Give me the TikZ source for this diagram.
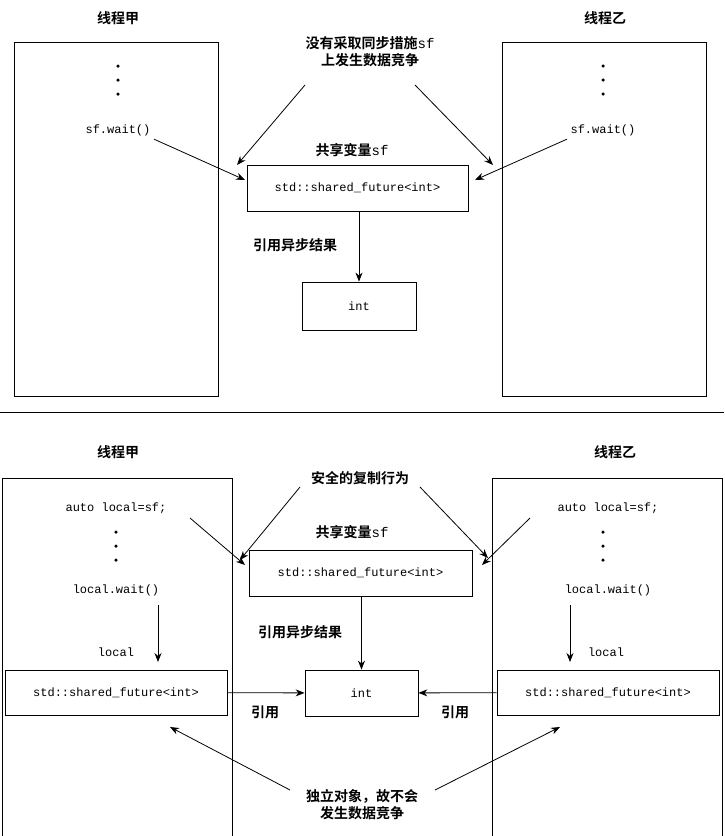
\documentclass[tikz,border=0pt]{standalone}
\usepackage{fontspec}
\setmonofont{Liberation Mono}
\newfontfamily\cjk{Noto Sans CJK SC}[BoldFont={* Bold}]
\usetikzlibrary{positioning,arrows.meta}
\tikzstyle{novertex} = [draw=none, fill=none, text centered, font=\cjk\bfseries\fontsize{14}{17}\selectfont, align=center]
\tikzstyle{code} = [draw=none, fill=none, text centered, font=\ttfamily\fontsize{12}{14}\selectfont]
\tikzstyle{thread} = [rectangle, draw, thick, anchor=north west]
\tikzstyle{terminal} = [rectangle, draw, thick, text centered, font=\ttfamily\fontsize{12}{14}\selectfont]
\tikzstyle{high} = [draw, thick, -{Stealth[length=9pt, width=7pt]}]
\tikzstyle{dot} = [circle, fill, inner sep=0pt, minimum size=3.5pt]
\begin{document}
\begin{tikzpicture}[x=1pt, y=-1pt]
	\useasboundingbox (0,0) rectangle (724,836);
	% upper part
	\node [novertex] (T1) at (118,18) {线程甲};
	\node [novertex] (T2) at (605,18) {线程乙};
	\node [thread, minimum width=204pt, minimum height=354pt] (A) at (14,42) {};
	\node [thread, minimum width=204pt, minimum height=354pt] (B) at (502,42) {};
	\foreach \y in {66,80,94} {
		\node [dot] at (118,\y) {};
		\node [dot] at (603,\y) {};
	}
	\node [code] (W1) at (118,130) {sf.wait()};
	\node [code] (W2) at (603,130) {sf.wait()};
	\node [novertex] (R) at (370,52) {没有采取同步措施{\mdseries\ttfamily sf}\\上发生数据竞争};
	\node [novertex] (S) at (352,150) {共享变量{\mdseries\ttfamily sf}};
	\node [terminal, minimum width=221pt, minimum height=46pt] (F) at (357.5,188) {std::shared\_future<int>};
	\node [novertex] (L) at (295,245) {引用异步结果};
	\node [terminal, minimum width=114pt, minimum height=48pt] (I) at (359,306) {int};
	\coordinate (R1) at (305,85);
	\coordinate (R2) at (415,85);
	\path [high] (R1) -- (237,165);
	\path [high] (R2) -- (493,165);
	\path [high] (W1.south east) -- (245,180);
	\path [high] (W2.south west) -- (475,180);
	\path [high] (F.south -| I) -- (I);
	\draw (0,412) -- (724,412);
	% lower part
	\node [novertex] (T3) at (118,452) {线程甲};
	\node [novertex] (T4) at (615,452) {线程乙};
	\node [thread, minimum width=230pt, minimum height=360pt] (C) at (2,478) {};
	\node [thread, minimum width=230pt, minimum height=360pt] (E) at (492,478) {};
	\node [code] (U1) at (116,508) {auto local=sf;};
	\node [code] (U2) at (608,508) {auto local=sf;};
	\foreach \y in {532,546,560} {
		\node [dot] at (116,\y) {};
		\node [dot] at (603,\y) {};
	}
	\node [code] (V1) at (116,590) {local.wait()};
	\node [code] (V2) at (608,590) {local.wait()};
	\node [code] (O1) at (116,652) {local};
	\node [code] (O2) at (606,652) {local};
	\node [terminal, minimum width=222pt, minimum height=45pt] (G1) at (116,692.5) {std::shared\_future<int>};
	\node [terminal, minimum width=222pt, minimum height=45pt] (G2) at (608,692.5) {std::shared\_future<int>};
	\node [novertex] (Q) at (360,478) {安全的复制行为};
	\node [novertex] (S2) at (352,532) {共享变量{\mdseries\ttfamily sf}};
	\node [terminal, minimum width=223pt, minimum height=46pt] (H) at (360.5,573) {std::shared\_future<int>};
	\node [novertex] (L2) at (300,632) {引用异步结果};
	\node [terminal, minimum width=113pt, minimum height=46pt] (J) at (361.5,693) {int};
	\node [novertex] (K1) at (265,712) {引用};
	\node [novertex] (K2) at (455,712) {引用};
	\node [novertex] (Z) at (362,805) {独立对象，故不会\\发生数据竞争};
	\path [high] (300,487) -- (240,560);
	\path [high] (420,487) -- (488,558);
	\path [high] (190,518) -- (245,565);
	\path [high] (530,518) -- (482,565);
	\path [high] (158,605) -- (158,662);
	\path [high] (570,605) -- (570,662);
	\path [high] (H.south -| J) -- (J);
	\path [high] (G1) -- (J);
	\path [high] (G2) -- (J);
	\path [high] (290,790) -- (170,727);
	\path [high] (435,790) -- (560,727);
\end{tikzpicture}
\end{document}
